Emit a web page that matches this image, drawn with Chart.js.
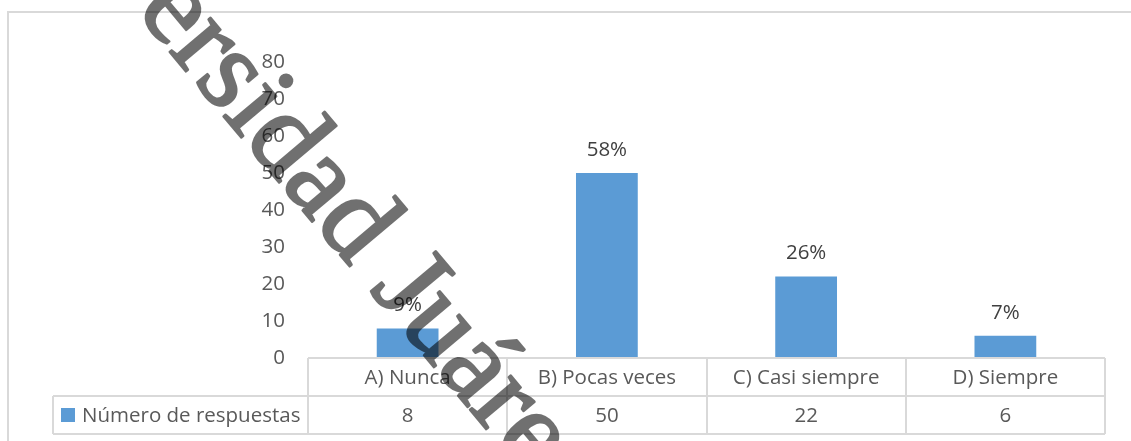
<!DOCTYPE html>
<html>
<head>
<meta charset="utf-8">
<script src="https://cdn.jsdelivr.net/npm/chart.js@4.4.1/dist/chart.umd.min.js"></script>
<style>
  html, body { margin: 0; padding: 0; background: #fff; }
</style>
</head>
<body>
<canvas id="respChart" width="1131" height="441"></canvas>
<script>
// survey answers
const categories = ["A) Nunca", "B) Pocas veces", "C) Casi siempre", "D) Siempre"];
const respuestas = [8, 50, 22, 6];
const seriesName = "Número de respuestas";
const yTicks = [0, 10, 20, 30, 40, 50, 60, 70, 80];
const watermark = "Universidad Juárez";

const barColor = "#5B9BD5";
const lineColor = "#D9D9D9";
const textColor = "#595959";
const uiFont = "'Open Sans', Lato, sans-serif";
const fontPx = 20.5;

const total = respuestas.reduce((a, b) => a + b, 0);

// outer frame of the chart object
const framePlugin = {
  id: "frame",
  beforeDraw(chart) {
    const ctx = chart.ctx;
    ctx.save();
    ctx.strokeStyle = lineColor;
    ctx.lineWidth = 2;
    ctx.strokeRect(8, 12, 1200, 500);
    ctx.restore();
  }
};

// percentage over each bar
const pctLabels = {
  id: "pctLabels",
  afterDatasetsDraw(chart) {
    const ctx = chart.ctx;
    const meta = chart.getDatasetMeta(0);
    ctx.save();
    ctx.font = fontPx + "px " + uiFont;
    ctx.fillStyle = "#404040";
    ctx.textAlign = "center";
    ctx.textBaseline = "middle";
    meta.data.forEach((bar, i) => {
      const pct = Math.round(respuestas[i] / total * 100) + "%";
      ctx.fillText(pct, bar.x, bar.y - 23);
    });
    ctx.restore();
  }
};

// data table under the x axis
const dataTable = {
  id: "dataTable",
  afterDraw(chart) {
    const ctx = chart.ctx;
    const x = chart.scales.x;
    const area = chart.chartArea;
    const rowH = 38;
    const y0 = area.bottom, y1 = y0 + rowH, y2 = y1 + rowH;
    const legendLeft = 53;
    const colW = x.width / categories.length;

    ctx.save();
    ctx.strokeStyle = lineColor;
    ctx.lineWidth = 2;
    ctx.beginPath();
    ctx.moveTo(x.left, y0); ctx.lineTo(x.right, y0);
    ctx.moveTo(legendLeft, y1); ctx.lineTo(x.right, y1);
    ctx.moveTo(legendLeft, y2); ctx.lineTo(x.right, y2);
    ctx.moveTo(legendLeft, y1); ctx.lineTo(legendLeft, y2);
    for (let i = 0; i <= categories.length; i++) {
      const cx = Math.round(x.left + i * colW);
      ctx.moveTo(cx, y0); ctx.lineTo(cx, y2);
    }
    ctx.stroke();

    ctx.font = fontPx + "px " + uiFont;
    ctx.fillStyle = textColor;
    ctx.textAlign = "center";
    ctx.textBaseline = "middle";
    categories.forEach((c, i) => {
      const cx = x.getPixelForValue(i);
      ctx.fillText(c, cx, y0 + rowH / 2 + 1);
      ctx.fillText(String(respuestas[i]), cx, y1 + rowH / 2 + 1);
    });

    // legend key + series name
    ctx.fillStyle = barColor;
    ctx.fillRect(61, y1 + 12, 14, 14);
    ctx.fillStyle = textColor;
    ctx.textAlign = "left";
    ctx.fillText(seriesName, 82, y1 + rowH / 2 + 1);
    ctx.restore();
  }
};

// diagonal watermark, drawn opaque on its own layer then blended in
const watermarkPlugin = {
  id: "watermark",
  afterDraw(chart) {
    const ctx = chart.ctx;
    const size = 116;
    const ang = 50 * Math.PI / 180;
    const layer = document.createElement("canvas");
    layer.width = chart.width;
    layer.height = chart.height;
    const wc = layer.getContext("2d");
    wc.font = size + "px 'Liberation Serif'";
    const pre = wc.measureText("Univer").width;
    const sw = wc.measureText("s").width;
    const lx = pre + sw / 2, ly = -0.23 * size;
    const tx = 228, ty = 80;
    const ox = tx - (lx * Math.cos(ang) - ly * Math.sin(ang));
    const oy = ty - (lx * Math.sin(ang) + ly * Math.cos(ang));
    wc.translate(ox, oy);
    wc.rotate(ang);
    wc.fillStyle = "#000";
    wc.strokeStyle = "#000";
    wc.lineWidth = 2.5;
    wc.lineJoin = "round";
    wc.fillText(watermark, 0, 0);
    wc.strokeText(watermark, 0, 0);

    ctx.save();
    ctx.globalAlpha = 0.56;
    ctx.drawImage(layer, 0, 0);
    ctx.restore();
  }
};

function buildChart() {
  const ctx = document.getElementById("respChart").getContext("2d");
  return new Chart(ctx, {
    type: "bar",
    data: {
      labels: categories,
      datasets: [{
        label: seriesName,
        data: respuestas,
        backgroundColor: barColor,
        borderWidth: 0,
        categoryPercentage: 1,
        barPercentage: 0.31
      }]
    },
    options: {
      responsive: false,
      animation: false,
      devicePixelRatio: 1,
      layout: { padding: { top: 62, right: 26, bottom: 83, left: 0 } },
      plugins: {
        legend: { display: false },
        tooltip: { enabled: false }
      },
      scales: {
        x: { display: false },
        y: {
          min: yTicks[0],
          max: yTicks[yTicks.length - 1],
          grid: { display: false, drawTicks: false },
          border: { display: false },
          ticks: {
            stepSize: yTicks[1] - yTicks[0],
            padding: 23,
            color: textColor,
            font: { family: uiFont, size: fontPx }
          },
          afterFit(scale) { scale.width = 308; }
        }
      }
    },
    plugins: [framePlugin, pctLabels, dataTable, watermarkPlugin]
  });
}

Promise.all([
  document.fonts.load("116px 'Liberation Serif'"),
  document.fonts.load("20px 'Open Sans'")
]).catch(() => {}).then(buildChart);
</script>
</body>
</html>
